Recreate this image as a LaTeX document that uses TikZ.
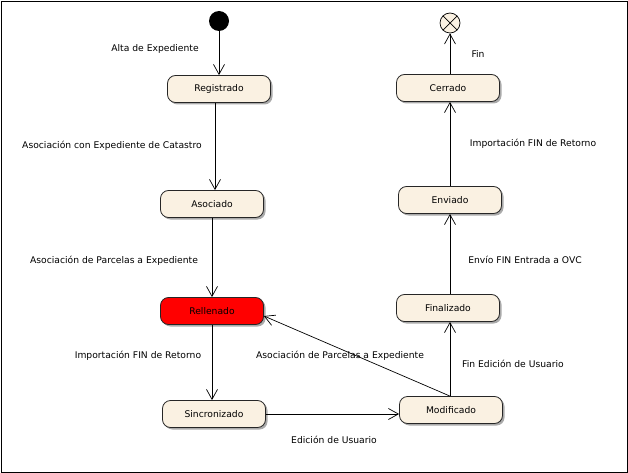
\documentclass[tikz,border=0pt]{standalone}
\usepackage{fontspec}
\setmainfont{DejaVu Sans}
\usetikzlibrary{arrows.meta,shadows}
\definecolor{statefill}{RGB}{250,241,226}
\definecolor{shadowgray}{RGB}{170,170,170}
\tikzset{
  state/.style={draw=black!85, line width=0.8pt, rounded corners=8pt, fill=statefill,
    minimum width=103pt, minimum height=27pt, inner sep=0pt,
    font=\fontsize{9.2}{11}\selectfont,
    drop shadow={shadow xshift=2pt, shadow yshift=-2pt, fill=shadowgray, opacity=1}},
  lbl/.style={font=\fontsize{9.2}{11}\selectfont, inner sep=1pt},
  tr/.style={draw=black, line width=0.7pt, -{Straight Barb[length=10pt,width=11pt,line width=0.7pt]}},
}
\begin{document}
\begin{tikzpicture}[x=1pt,y=-1pt]
\useasboundingbox (0,0) rectangle (628,473);
\draw[line width=0.8pt] (1,1) rectangle (627,472);
% states
\node[circle, fill=black, minimum size=20pt, inner sep=0pt] (start) at (219,21) {};
\node[circle, draw=black, line width=0.7pt, fill=statefill, minimum size=20pt, inner sep=0pt,
  path picture={\draw[line width=0.7pt] (path picture bounding box.north west) -- (path picture bounding box.south east)
  (path picture bounding box.north east) -- (path picture bounding box.south west);}] (end) at (450,23) {};
\node[state] (reg) at (219,89) {Registrado};
\node[state] (aso) at (212,204) {Asociado};
\node[state, fill=red] (rel) at (212,311) {Rellenado};
\node[state] (sin) at (214,414) {Sincronizado};
\node[state] (mod) at (451,410) {Modificado};
\node[state] (fin) at (448,308) {Finalizado};
\node[state] (env) at (450,200) {Enviado};
\node[state] (cer) at (448,88) {Cerrado};
% transitions
\draw[tr] (start) -- (start |- reg.north);
\draw[tr] (reg.south -| 215,0) -- (aso.north -| 215,0);
\draw[tr] (aso.south) -- (rel.north);
\draw[tr] (rel.south) -- (sin.north -| rel.south);
\draw[tr] (sin.east) -- (sin.east -| mod.west);
\draw[tr] (mod.north -| 450,0) -- (rel.east |- 0,316);
\draw[tr] (mod.north -| 450,0) -- (fin.south -| 450,0);
\draw[tr] (fin.north -| 450,0) -- (env.south -| 450,0);
\draw[tr] (env.north -| 450,0) -- (cer.south -| 450,0);
\draw[tr] (cer.north -| 450,0) -- (end);
% labels
\node[lbl] (l1) at (155,49) {Alta de Expediente};
\node[lbl] (l2) at (112,146) {Asociación con Expediente de Catastro};
\node[lbl] (l3) at (114,261) {Asociación de Parcelas a Expediente};
\node[lbl] (l4) at (138,356) {Importación FIN de Retorno};
\node[lbl] (l5) at (334,440) {Edición de Usuario};
\node[lbl] (l6) at (340,356) {Asociación de Parcelas a Expediente};
\node[lbl] (l7) at (513,364) {Fin Edición de Usuario};
\node[lbl] (l8) at (525,260) {Envío FIN Entrada a OVC};
\node[lbl] (l9) at (533,144) {Importación FIN de Retorno};
\node[lbl] (l10) at (478,54) {Fin};
\end{tikzpicture}
\end{document}
